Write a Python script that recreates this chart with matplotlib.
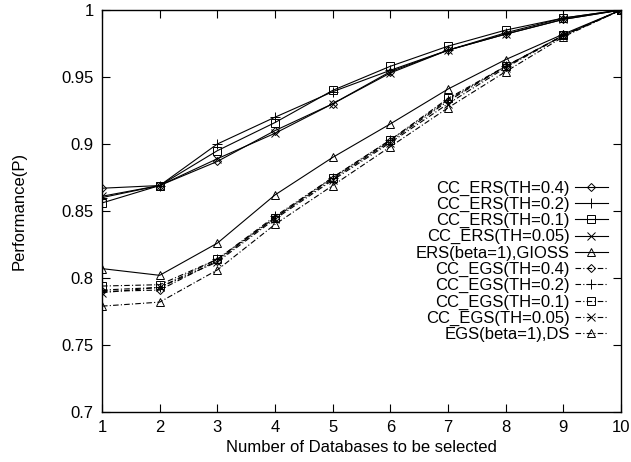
import matplotlib
matplotlib.use("Agg")
import matplotlib.pyplot as plt

plt.rcParams['font.family'] = ['Liberation Sans', 'DejaVu Sans']
plt.rcParams['font.size'] = 12

n_db = [1, 2, 3, 4, 5, 6, 7, 8, 9, 10]

ers_04 = [0.867, 0.869, 0.887, 0.910, 0.930, 0.954, 0.970, 0.982, 0.993, 1.0]
ers_02 = [0.860, 0.869, 0.900, 0.920, 0.939, 0.955, 0.970, 0.983, 0.994, 1.0]
ers_01 = [0.856, 0.869, 0.895, 0.916, 0.940, 0.958, 0.973, 0.985, 0.994, 1.0]
ers_005 = [0.861, 0.869, 0.889, 0.908, 0.930, 0.953, 0.970, 0.982, 0.993, 1.0]
ers_gloss = [0.807, 0.802, 0.826, 0.862, 0.890, 0.915, 0.941, 0.963, 0.982, 1.0]

egs_04 = [0.790, 0.791, 0.813, 0.845, 0.874, 0.902, 0.932, 0.958, 0.981, 1.0]
egs_02 = [0.791, 0.793, 0.814, 0.846, 0.875, 0.903, 0.933, 0.958, 0.981, 1.0]
egs_01 = [0.794, 0.795, 0.814, 0.845, 0.875, 0.903, 0.934, 0.958, 0.981, 1.0]
egs_005 = [0.789, 0.793, 0.812, 0.844, 0.873, 0.901, 0.930, 0.957, 0.981, 1.0]
egs_ds = [0.779, 0.782, 0.806, 0.840, 0.869, 0.898, 0.927, 0.954, 0.980, 1.0]

labels = ["CC_ERS(TH=0.4)", "CC_ERS(TH=0.2)", "CC_ERS(TH=0.1)", "CC_ERS(TH=0.05)",
          "ERS(beta=1),GIOSS",
          "CC_EGS(TH=0.4)", "CC_EGS(TH=0.2)", "CC_EGS(TH=0.1)", "CC_EGS(TH=0.05)",
          "EGS(beta=1),DS"]
series = [ers_04, ers_02, ers_01, ers_005, ers_gloss,
          egs_04, egs_02, egs_01, egs_005, egs_ds]
markers = ['D', '+', 's', 'x', '^', 'D', '+', 's', 'x', '^']
msizes = [4.5, 7, 6, 6, 6, 4.5, 7, 6, 6, 6]
dashdot = (0, (5, 2, 1, 2))

fig = plt.figure(figsize=(6.31, 4.62), dpi=100)
ax = fig.add_axes([102 / 631, 1 - 412 / 462, 519 / 631, 402 / 462])

for i in range(len(series)):
    ls = '-' if i < 5 else dashdot
    ax.plot(n_db, series[i], color='black', linestyle=ls, linewidth=0.8,
            marker=markers[i], markersize=msizes[i], markerfacecolor='none',
            markeredgecolor='black', markeredgewidth=0.7, label=labels[i])

ax.set_xlim(1, 10)
ax.set_ylim(0.7, 1.0)
ax.set_xticks(n_db)
ax.set_yticks([0.7, 0.75, 0.8, 0.85, 0.9, 0.95, 1.0])
ax.set_yticklabels(["0.7", "0.75", "0.8", "0.85", "0.9", "0.95", "1"])
ax.tick_params(direction='in', length=6, width=0.8, top=True, right=True,
               labelsize=12, pad=6)
for s in ax.spines.values():
    s.set_linewidth(1.0)

ax.set_xlabel("Number of Databases to be selected", labelpad=3)
ax.set_ylabel("Performance(P)", labelpad=25)

ax.legend(loc='center right', bbox_to_anchor=(0.975, 0.375), frameon=False,
          markerfirst=False, handlelength=2.0, handletextpad=0.3,
          labelspacing=0.07, borderpad=0, borderaxespad=0, fontsize=12)

fig.savefig("out.png", dpi=100)
